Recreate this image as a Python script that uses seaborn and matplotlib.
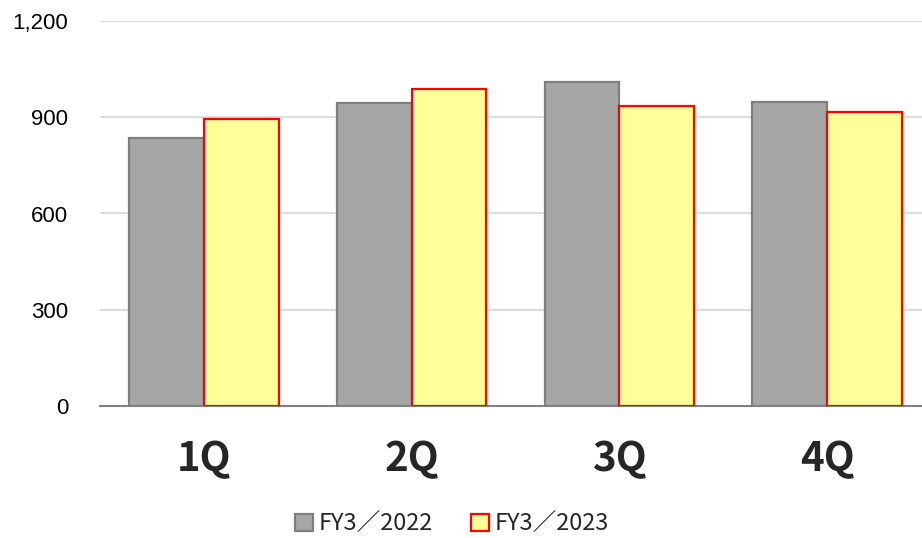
import matplotlib
matplotlib.use("Agg")
import matplotlib.pyplot as plt
import seaborn as sns
import pandas as pd

quarters = ["1Q", "2Q", "3Q", "4Q"]
series_names = ["FY3／2022", "FY3／2023"]
fy2022 = [836, 944, 1011, 946]
fy2023 = [896, 989, 934, 916]
y_ticks = [0, 300, 600, 900, 1200]
y_tick_labels = ["0", "300", "600", "900", "1,200"]

fills = ["#A6A6A6", "#FFFF99"]
edges = ["#7F7F7F", "#FF0000"]

df = pd.DataFrame({
    "quarter": quarters * 2,
    "series": [series_names[0]] * 4 + [series_names[1]] * 4,
    "value": fy2022 + fy2023,
})

sns.set_theme(style="white")
plt.rcParams["font.family"] = ["Noto Sans CJK JP", "DejaVu Sans"]

fig = plt.figure(figsize=(9.22, 5.38), dpi=100)
ax = fig.add_axes([100 / 922, 132 / 538, 822 / 922, 385 / 538])

sns.barplot(data=df, x="quarter", y="value", hue="series", order=quarters,
            hue_order=series_names, palette=fills, saturation=1, width=0.72, ax=ax,
            legend=False, linewidth=1.6, zorder=3)

for cont, ec in zip(ax.containers, edges):
    for p in cont:
        p.set_edgecolor(ec)
        p.set_linewidth(1.6)

ax.set_ylim(0, 1200)
ax.set_xlim(-0.5, 3.5 - 9 / 208)
ax.set_yticks(y_ticks)
ax.set_yticklabels(y_tick_labels)
ax.yaxis.grid(True, color="#D9D9D9", linewidth=1.3, zorder=0)
ax.set_axisbelow(True)
for s in ["top", "right", "left"]:
    ax.spines[s].set_visible(False)
ax.spines["bottom"].set_color("#808080")
ax.spines["bottom"].set_linewidth(1.5)
ax.set_xlabel("")
ax.set_ylabel("")

ax.tick_params(axis="y", length=0, pad=23, labelsize=16, labelcolor="#000000")
ax.tick_params(axis="x", length=0, pad=24, labelsize=29)
for t in ax.get_xticklabels():
    t.set_fontweight("bold")
for t in ax.get_yticklabels():
    t.set_family(["Liberation Sans", "DejaVu Sans"])

handles = [cont.patches[0] for cont in ax.containers]
leg = fig.legend(handles, series_names, loc="center", bbox_to_anchor=(452 / 922, 1 - 524 / 538),
                 ncol=2, frameon=False, fontsize=17, handlelength=0.75, handleheight=0.75,
                 handletextpad=0.25, columnspacing=1.6)

fig.savefig("out.png", dpi=100)
